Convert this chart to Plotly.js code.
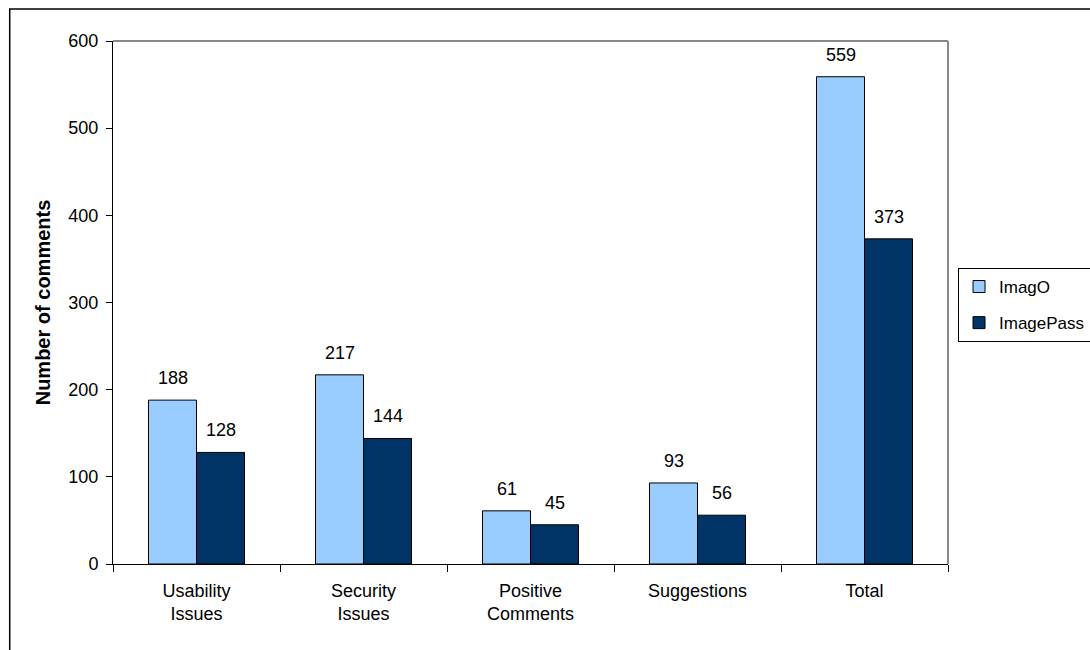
<!DOCTYPE html>
<html><head><meta charset="utf-8">
<script src="https://cdn.plot.ly/plotly-3.0.1.min.js"></script>
<style>html,body{margin:0;padding:0;background:#fff;}#chart{width:1090px;height:650px;}</style>
</head><body><div id="chart"></div>
<script>
const categories = ["Usability<br>Issues", "Security<br>Issues", "Positive<br>Comments", "Suggestions", "Total"];
const imagO = [188, 217, 61, 93, 559];
const imagePass = [128, 144, 45, 56, 373];
const seriesNames = ["ImagO", "ImagePass"];
const yTicks = [0, 100, 200, 300, 400, 500, 600];

const FAM = "Liberation Sans, Arial, sans-serif";
const font = {family: FAM, size: 18, color: "#000"};
const traces = [
  {type: "bar", name: seriesNames[0], x: categories, y: imagO, legendgroup: "a",
   marker: {color: "#99CCFF", line: {color: "#000", width: 1}}},
  {type: "bar", name: seriesNames[1], x: categories, y: imagePass, legendgroup: "b",
   marker: {color: "#003366", line: {color: "#000", width: 1}}}
];
const annotations = [];
[[imagO, -24], [imagePass, 24]].forEach(([vals, dx]) => {
  vals.forEach((v, i) => annotations.push({
    x: categories[i], y: v, xref: "x", yref: "y", text: String(v), showarrow: false,
    xshift: dx, yshift: 10, yanchor: "bottom", font: font
  }));
});
const layout = {
  width: 1090, height: 650,
  margin: {l: 113, r: 142, t: 41, b: 86, pad: 0, autoexpand: false},
  paper_bgcolor: "#fff", plot_bgcolor: "#fff",
  font: font,
  barmode: "group", bargap: 0.425, bargroupgap: 0,
  showlegend: true,
  legend: {x: 1.012, xanchor: "left", y: 0.566, yanchor: "top", bordercolor: "#000", borderwidth: 1,
           font: {family: FAM, size: 17, color: "#000"}, bgcolor: "#fff", traceorder: "grouped", tracegroupgap: 11},
  xaxis: {type: "category", showline: true, linecolor: "#000", linewidth: 1, ticks: "outside",
          tickson: "boundaries", ticklen: 7, tickcolor: "#000", showgrid: false, tickfont: font,
          zeroline: false, ticklabelstandoff: 10},
  yaxis: {range: [0, 600], tickvals: yTicks, ticktext: yTicks.map(String), showline: true, linecolor: "#000",
          ticks: "outside", ticklen: 6, tickcolor: "#000", showgrid: false, zeroline: false, tickfont: font,
          ticklabelstandoff: 4,
          title: {text: "<b>Number of comments</b>", font: {family: FAM, size: 20, color: "#000"}, standoff: 12}},
  annotations: annotations,
  shapes: [
    {type: "line", xref: "paper", yref: "paper", x0: 0, x1: 1, y0: 1, y1: 1, line: {color: "#888", width: 2}},
    {type: "line", xref: "paper", yref: "paper", x0: 1, x1: 1, y0: 0, y1: 1, line: {color: "#888", width: 2}},
    {type: "rect", xref: "paper", yref: "paper", x0: -0.1237, x1: 1.3, y0: -0.3, y1: 1.0612, line: {color: "#000", width: 1.5}}
  ]
};
Plotly.newPlot("chart", traces, layout, {staticPlot: true, displayModeBar: false});
</script></body></html>
